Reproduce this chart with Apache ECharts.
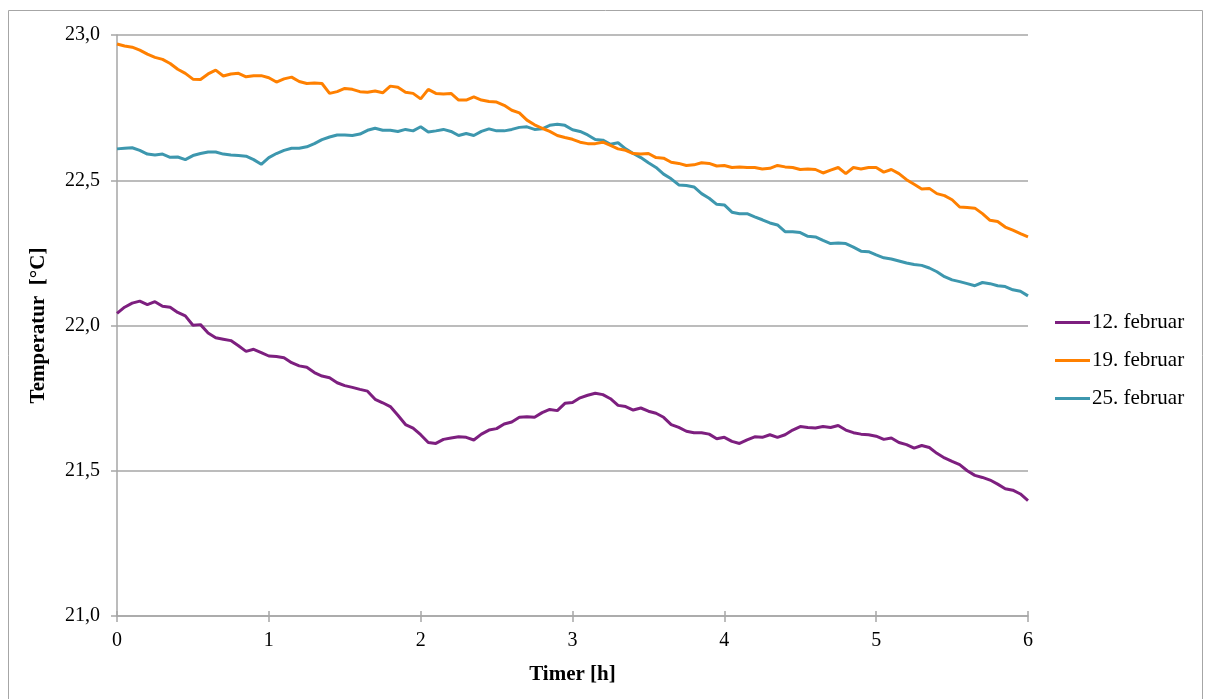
<!DOCTYPE html>
<html>
<head>
<meta charset="utf-8">
<script src="https://cdn.jsdelivr.net/npm/echarts@6/dist/echarts.min.js"></script>
<style>
  html, body { margin: 0; padding: 0; background: #fff; }
  #chart { width: 1211px; height: 699px; }
</style>
</head>
<body>
<div id="chart"></div>
<script>
// tid i timer
var hours = [0, 0.05, 0.1, 0.15, 0.2, 0.25, 0.3, 0.35, 0.4, 0.45,
    0.5, 0.55, 0.6, 0.65, 0.7, 0.75, 0.8, 0.85, 0.9, 0.95,
    1, 1.05, 1.1, 1.15, 1.2, 1.25, 1.3, 1.35, 1.4, 1.45,
    1.5, 1.55, 1.6, 1.65, 1.7, 1.75, 1.8, 1.85, 1.9, 1.95,
    2, 2.05, 2.1, 2.15, 2.2, 2.25, 2.3, 2.35, 2.4, 2.45,
    2.5, 2.55, 2.6, 2.65, 2.7, 2.75, 2.8, 2.85, 2.9, 2.95,
    3, 3.05, 3.1, 3.15, 3.2, 3.25, 3.3, 3.35, 3.4, 3.45,
    3.5, 3.55, 3.6, 3.65, 3.7, 3.75, 3.8, 3.85, 3.9, 3.95,
    4, 4.05, 4.1, 4.15, 4.2, 4.25, 4.3, 4.35, 4.4, 4.45,
    4.5, 4.55, 4.6, 4.65, 4.7, 4.75, 4.8, 4.85, 4.9, 4.95,
    5, 5.05, 5.1, 5.15, 5.2, 5.25, 5.3, 5.35, 5.4, 5.45,
    5.5, 5.55, 5.6, 5.65, 5.7, 5.75, 5.8, 5.85, 5.9, 5.95, 6]

var feb12 = [22.042, 22.063, 22.077, 22.084, 22.072, 22.082, 22.066, 22.063, 22.045, 22.033,
    22.001, 22.003, 21.974, 21.958, 21.953, 21.948, 21.930, 21.911, 21.918, 21.907,
    21.895, 21.893, 21.889, 21.872, 21.861, 21.856, 21.838, 21.826, 21.820, 21.803,
    21.793, 21.787, 21.780, 21.774, 21.746, 21.734, 21.721, 21.691, 21.659, 21.647,
    21.624, 21.597, 21.594, 21.608, 21.613, 21.617, 21.615, 21.606, 21.626, 21.640,
    21.645, 21.661, 21.668, 21.684, 21.686, 21.684, 21.700, 21.711, 21.707, 21.732,
    21.735, 21.751, 21.760, 21.767, 21.762, 21.748, 21.725, 21.721, 21.709, 21.716,
    21.705, 21.698, 21.684, 21.659, 21.649, 21.636, 21.631, 21.631, 21.626, 21.610,
    21.615, 21.601, 21.594, 21.606, 21.617, 21.615, 21.624, 21.615, 21.624, 21.640,
    21.652, 21.649, 21.647, 21.652, 21.649, 21.656, 21.640, 21.631, 21.626, 21.624,
    21.619, 21.608, 21.613, 21.597, 21.590, 21.578, 21.587, 21.580, 21.560, 21.544,
    21.532, 21.521, 21.500, 21.484, 21.477, 21.468, 21.454, 21.438, 21.433, 21.420, 21.397]

var feb19 = [22.969, 22.962, 22.958, 22.948, 22.934, 22.923, 22.916, 22.902, 22.882, 22.868,
    22.848, 22.847, 22.866, 22.879, 22.859, 22.866, 22.868, 22.856, 22.860, 22.860,
    22.853, 22.838, 22.849, 22.855, 22.840, 22.833, 22.835, 22.833, 22.799, 22.805,
    22.816, 22.813, 22.805, 22.803, 22.807, 22.801, 22.824, 22.820, 22.803, 22.799,
    22.780, 22.813, 22.799, 22.797, 22.799, 22.776, 22.776, 22.787, 22.776, 22.771,
    22.769, 22.758, 22.741, 22.732, 22.707, 22.691, 22.679, 22.668, 22.654, 22.647,
    22.641, 22.631, 22.626, 22.626, 22.631, 22.620, 22.608, 22.603, 22.592, 22.590,
    22.592, 22.578, 22.576, 22.562, 22.558, 22.551, 22.553, 22.560, 22.558, 22.549,
    22.551, 22.544, 22.546, 22.544, 22.544, 22.539, 22.541, 22.551, 22.546, 22.544,
    22.537, 22.539, 22.537, 22.525, 22.535, 22.544, 22.523, 22.544, 22.539, 22.544,
    22.544, 22.528, 22.537, 22.523, 22.502, 22.486, 22.470, 22.472, 22.454, 22.447,
    22.433, 22.408, 22.406, 22.404, 22.385, 22.362, 22.358, 22.339, 22.328, 22.316, 22.305]

var feb25 = [22.608, 22.610, 22.612, 22.603, 22.590, 22.587, 22.590, 22.579, 22.580, 22.571,
    22.585, 22.592, 22.597, 22.597, 22.590, 22.587, 22.585, 22.583, 22.571, 22.555,
    22.578, 22.592, 22.603, 22.610, 22.610, 22.615, 22.626, 22.640, 22.649, 22.656,
    22.656, 22.654, 22.659, 22.672, 22.679, 22.672, 22.672, 22.668, 22.675, 22.670,
    22.684, 22.666, 22.670, 22.675, 22.668, 22.654, 22.661, 22.654, 22.668, 22.677,
    22.670, 22.670, 22.675, 22.682, 22.684, 22.675, 22.677, 22.689, 22.693, 22.689,
    22.674, 22.668, 22.656, 22.640, 22.638, 22.624, 22.629, 22.608, 22.592, 22.578,
    22.560, 22.544, 22.521, 22.505, 22.484, 22.482, 22.477, 22.454, 22.438, 22.417,
    22.415, 22.390, 22.385, 22.385, 22.374, 22.364, 22.353, 22.346, 22.323, 22.323,
    22.320, 22.307, 22.305, 22.293, 22.282, 22.284, 22.282, 22.270, 22.256, 22.254,
    22.243, 22.233, 22.229, 22.222, 22.215, 22.210, 22.207, 22.198, 22.185, 22.168,
    22.157, 22.151, 22.144, 22.137, 22.148, 22.144, 22.137, 22.134, 22.123, 22.118, 22.102]

var seriesNames = ['12. februar', '19. februar', '25. februar']
var seriesColors = ['#7d1f7f', '#ff8000', '#3d97ae']

function pairs(values) {
    return values.map(function (v, i) { return [hours[i], v] })
}

var fontFam = '"Liberation Serif", "Times New Roman", serif'
var gray = '#a6a6a6'

var chart = echarts.init(document.getElementById('chart'), null, { renderer: 'canvas' })
chart.setOption({
    animation: false,
    backgroundColor: '#fff',
    textStyle: { fontFamily: fontFam, color: '#000' },
    graphic: [{
        type: 'rect',
        shape: { x: 8.5, y: 10.5, width: 1194, height: 720 },
        style: { fill: 'none', stroke: gray, lineWidth: 1 },
        silent: true
    }],
    grid: { left: 117, right: 183, top: 35, bottom: 83 },
    legend: {
        orient: 'vertical',
        left: 1055,
        top: 312,
        padding: 0,
        icon: 'rect',
        itemWidth: 35,
        itemHeight: 3,
        itemGap: 17,
        textStyle: { fontFamily: fontFam, fontSize: 21, color: '#000', padding: [0, 0, 0, -3] },
        data: seriesNames
    },
    xAxis: [{
        type: 'value',
        min: 0,
        max: 6,
        interval: 1,
        name: 'Timer [h]',
        nameLocation: 'middle',
        nameGap: 48,
        nameTextStyle: { fontFamily: fontFam, fontSize: 21, fontWeight: 'bold', color: '#000' },
        axisLine: { lineStyle: { color: gray, width: 1.5 } },
        axisTick: { length: 6, lineStyle: { color: gray, width: 1.5 } },
        axisLabel: { margin: 15, fontFamily: fontFam, fontSize: 20, color: '#000' },
        splitLine: { show: false }
    }, {
        // inner half of the crossing ticks
        type: 'value',
        min: 0,
        max: 6,
        interval: 1,
        position: 'bottom',
        axisLine: { show: false },
        axisTick: { inside: true, length: 5, lineStyle: { color: gray, width: 1.5 } },
        axisLabel: { show: false },
        splitLine: { show: false }
    }],
    yAxis: {
        type: 'value',
        min: 21,
        max: 23,
        interval: 0.5,
        name: 'Temperatur  [°C]',
        nameLocation: 'middle',
        nameGap: 68,
        nameRotate: 90,
        nameTextStyle: { fontFamily: fontFam, fontSize: 21, fontWeight: 'bold', color: '#000' },
        axisLine: { show: true, lineStyle: { color: gray, width: 1.5 } },
        axisTick: { show: true, length: 6, lineStyle: { color: gray, width: 1.5 } },
        axisLabel: {
            margin: 17,
            fontFamily: fontFam,
            fontSize: 20,
            color: '#000',
            formatter: function (v) { return v.toFixed(1).replace('.', ',') }
        },
        splitLine: { lineStyle: { color: gray, width: 1.5 } }
    },
    series: [feb12, feb19, feb25].map(function (vals, i) {
        return {
            name: seriesNames[i],
            type: 'line',
            symbol: 'none',
            data: pairs(vals),
            color: seriesColors[i],
            lineStyle: { width: 3, color: seriesColors[i] },
            z: 3 - i
        }
    })
})
</script>
</body>
</html>
